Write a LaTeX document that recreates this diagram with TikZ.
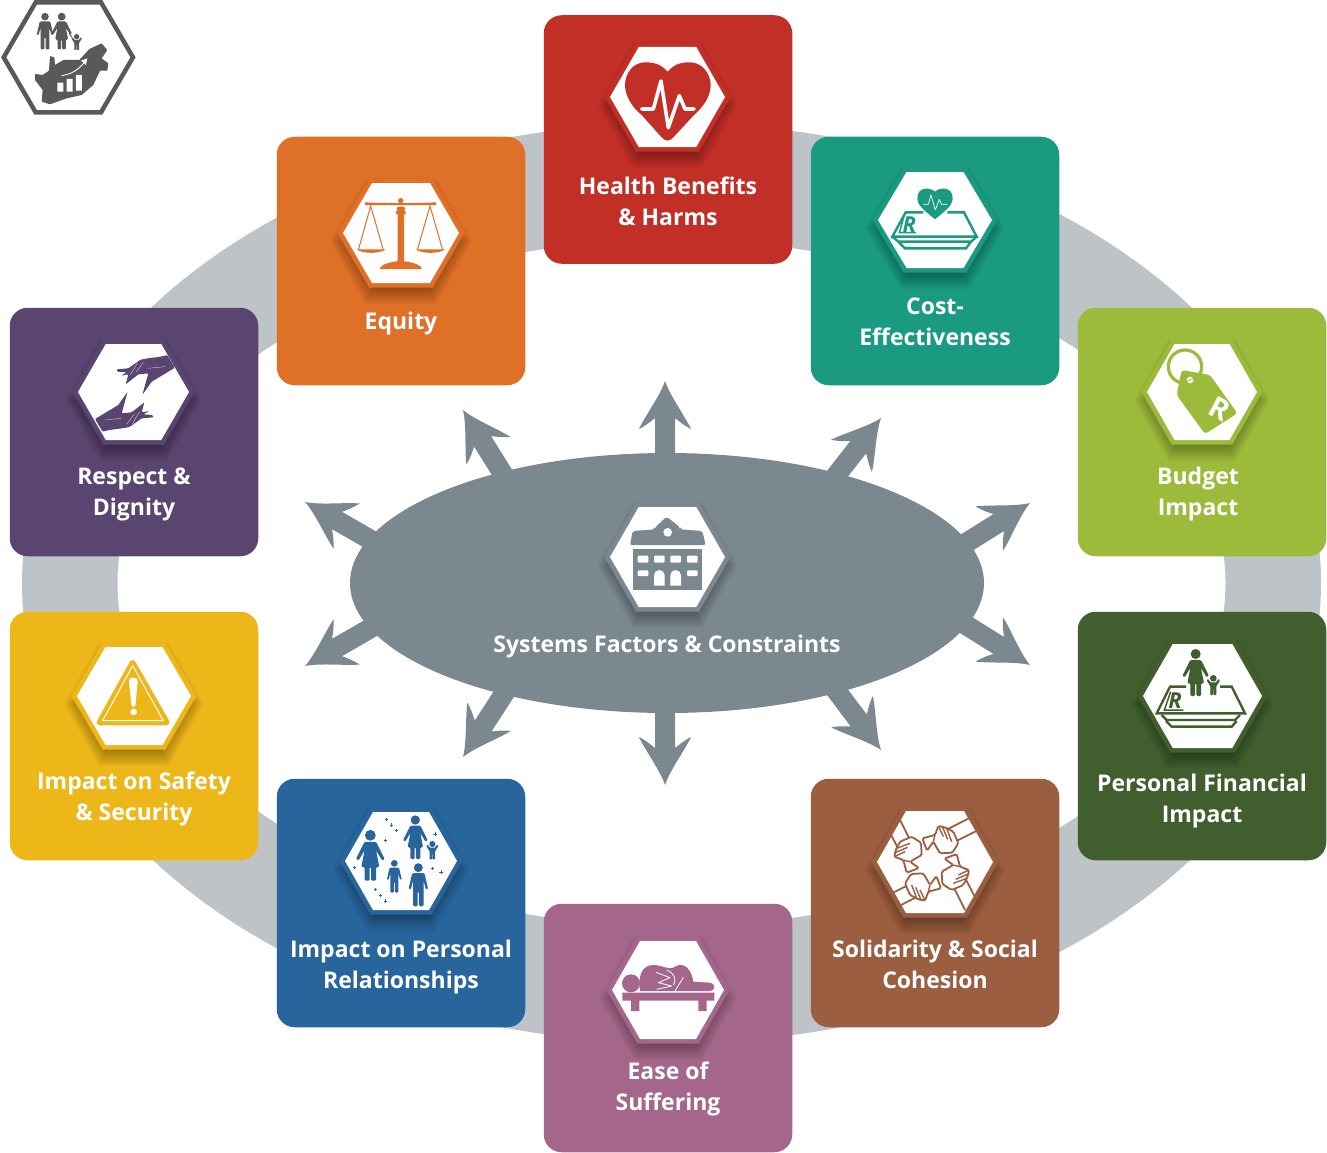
\documentclass[tikz,border=0pt]{standalone}
\usepackage{fontspec}
\setmainfont{Open Sans}
\usetikzlibrary{shapes.geometric}
\definecolor{ringc}{HTML}{BDC3C7}
\definecolor{sysc}{HTML}{7C8890}
\definecolor{redc}{HTML}{C22F27}
\definecolor{orangec}{HTML}{DF7027}
\definecolor{tealc}{HTML}{1A9A80}
\definecolor{limec}{HTML}{9DBB3B}
\definecolor{purplec}{HTML}{5A4570}
\definecolor{forestc}{HTML}{415F2E}
\definecolor{goldc}{HTML}{EDB71A}
\definecolor{bluec}{HTML}{28659C}
\definecolor{brownc}{HTML}{9C5E40}
\definecolor{mauvec}{HTML}{A4668A}
\definecolor{logoc}{HTML}{58595B}
\tikzset{
  cardbox/.style={rectangle,draw=none,minimum size=248.5pt,inner sep=0pt,rounded corners=18pt},
  lbl/.style={text=white,align=center,font=\bfseries\fontsize{23}{31}\selectfont,inner sep=0pt},
  zoomfrom/.style 2 args={shift={(#1,#2)},x=0.33333pt,y=-0.33333pt},
}
\newcommand\hexpath[2]{(-#1,0) -- ({-#1/2},-#2) -- ({#1/2},-#2) -- (#1,0) -- ({#1/2},#2) -- ({-#1/2},#2) -- cycle}
% centre x, centre y, half width, half height, colour
\newcommand\hexa[5]{%
  \begin{scope}[shift={(#1,#2)}]
    \foreach \i in {1,...,18}{%
      \pgfmathsetmacro\hw{#3+\i-5}\pgfmathsetmacro\hh{#4+\i-5}%
      \fill[black,opacity=.02,yshift=-8pt] \hexpath{\hw}{\hh};
    }
    \pgfmathsetmacro\hw{#3+5.5}\pgfmathsetmacro\hh{#4+4.5}%
    \fill[#5] \hexpath{\hw}{\hh};
    \fill[white] \hexpath{#3}{#4};
  \end{scope}}
\newcommand\burst[3]{%
  \fill[sysc,shift={(#1,#2)},rotate=#3] (0,0) .. controls (-15,5) and (-35,20) .. (-48,26)
    .. controls (-44,18) and (-40,14) .. (-37,10) -- (-130,10) -- (-130,-10) -- (-37,-10)
    .. controls (-40,-14) and (-44,-18) .. (-48,-26) .. controls (-35,-20) and (-15,-5) .. (0,0) -- cycle;}
% people, in zoom units: head at x,y, scale
\newcommand\womanicon[4]{\begin{scope}[shift={(#1,#2)},scale=#3]
  \fill[#4] (0,0) circle (15);
  \fill[#4,rounded corners=1.2pt] (-16,18) -- (16,18) -- (40,66) -- (33,70) -- (16,42) -- (25,88) -- (16,88) -- (16,126) -- (2,126) -- (2,88) -- (-2,88) -- (-2,126) -- (-16,126) -- (-16,88) -- (-25,88) -- (-16,42) -- (-33,70) -- (-40,66) -- cycle;
\end{scope}}
\newcommand\manicon[4]{\begin{scope}[shift={(#1,#2)},scale=#3]
  \fill[#4] (0,0) circle (14.5);
  \fill[#4,rounded corners=1.2pt] (-20,18) -- (20,18) -- (32,70) -- (25,72) -- (17,42) -- (17,126) -- (2,126) -- (2,78) -- (-2,78) -- (-2,126) -- (-17,126) -- (-17,42) -- (-25,72) -- (-32,70) -- cycle;
\end{scope}}
\newcommand\childicon[4]{\begin{scope}[shift={(#1,#2)},scale=#3]
  \fill[#4] (0,0) circle (10);
  \fill[#4,rounded corners=.6pt] (-8,12) -- (8,12) -- (16,2) -- (20,6) -- (9,24) -- (9,50) -- (1,50) -- (1,32) -- (-1,32) -- (-1,50) -- (-9,50) -- (-9,24) -- (-20,6) -- (-16,2) -- cycle;
\end{scope}}
\newcommand\plusdot[3]{\draw[#3,line width=1pt] (#1-5,#2) -- (#1+5,#2) (#1,#2-5) -- (#1,#2+5);}
\begin{document}
\begin{tikzpicture}[x=1pt,y=-1pt]
\useasboundingbox (0,0) rectangle (1327,1153);
% ring
\fill[ringc,even odd rule] (671.5,583) ellipse [x radius=649.5,y radius=460] (671.5,583) ellipse [x radius=554,y radius=343];
% centre
\node[ellipse,fill=sysc,draw=none,minimum width=634pt,minimum height=260pt,inner sep=0pt] (sys) at (667,583) {};
\burst{665}{381}{90}
\burst{881}{418}{52}
\burst{1030}{503}{32}
\burst{1030}{665}{-32}
\burst{881}{750}{-53}
\burst{665}{785}{-90}
\burst{463}{757}{237}
\burst{305}{666}{210}
\burst{305}{502}{150}
\burst{463}{410}{122}
% cards
\node[cardbox,fill=redc] (health) at (668,139.5) {};
\node[cardbox,fill=orangec] (equity) at (401,261) {};
\node[cardbox,fill=tealc] (cost) at (935,261) {};
\node[cardbox,fill=limec] (budget) at (1202,432) {};
\node[cardbox,fill=purplec] (respect) at (134,432) {};
\node[cardbox,fill=forestc] (financial) at (1202,736) {};
\node[cardbox,fill=goldc] (safety) at (134,736) {};
\node[cardbox,fill=bluec] (relations) at (401,903) {};
\node[cardbox,fill=brownc] (solidarity) at (935,903) {};
\node[cardbox,fill=mauvec] (ease) at (668,1028) {};
% hexagons
\hexa{667.5}{97}{57.5}{50}{redc}
\hexa{401}{233}{58}{50}{orangec}
\hexa{935}{220}{57}{48}{tealc}
\hexa{1202}{392}{55}{48}{limec}
\hexa{133.5}{392}{55.5}{48}{purplec}
\hexa{1202.5}{696}{59.5}{52}{forestc}
\hexa{134}{696}{57}{49}{goldc}
\hexa{401}{861}{56}{49}{bluec}
\hexa{935}{862}{58}{51}{brownc}
\hexa{668}{990}{56}{49}{mauvec}
\hexa{667.5}{557}{57.5}{50}{sysc}
% logo
\begin{scope}[zoomfrom={0}{0}]
  \draw[logoc,line width=4.5pt,fill=white,miter limit=4] (11,172) -- (107,7) -- (303,7) -- (399,172) -- (303,337) -- (107,337) -- cycle;
  \manicon{135}{50}{.78}{logoc}
  \womanicon{185}{50}{.78}{logoc}
  \childicon{230}{110}{.8}{logoc}
  \draw[logoc,line width=1pt] (207,100) -- (216,112);
  \fill[logoc,rounded corners=.6pt] (105,222) -- (128,225) -- (147,212) -- (150,168) -- (163,172) -- (165,195) -- (190,180) -- (238,180) -- (268,147) -- (305,130) -- (322,150) -- (305,175) -- (325,190) -- (322,212) -- (300,212) -- (280,255) -- (245,285) -- (200,295) -- (150,313) -- (125,305) -- (128,270) -- (105,240) -- cycle;
  \fill[white] (172,248) rectangle (190,275) (200,237) rectangle (218,275) (228,225) rectangle (246,272);
  \draw[white,line width=.9pt] (185,227) .. controls (215,222) and (235,210) .. (252,188);
  \fill[white] (262,175) -- (243,182) -- (258,195) -- cycle;
\end{scope}
% health heart
\begin{scope}[zoomfrom={590}{30}]
  \fill[redc] (233,125) .. controls (210,100) and (190,97) .. (165,97) .. controls (130,97) and (105,130) .. (105,165) .. controls (105,200) and (130,235) .. (155,255) -- (215,322) .. controls (228,335) and (238,335) .. (250,322) -- (312,255) .. controls (340,230) and (362,200) .. (362,165) .. controls (362,130) and (335,97) .. (300,97) .. controls (275,97) and (255,100) .. (233,125) -- cycle;
  \draw[white,line width=3.6pt,line cap=round,line join=round] (155,237) -- (190,237) -- (213,153) -- (235,293) -- (268,197) -- (285,237) -- (312,237);
\end{scope}
% cost icon
\begin{scope}[zoomfrom={860}{160}]
  \draw[tealc,line width=2.4pt,line join=miter] (190,157) -- (137,157) -- (97,230) -- (350,230) -- (312,157) -- (262,157);
  \draw[tealc,line width=2.4pt] (97,230) -- (115,245) -- (333,245) -- (350,230) (115,245) -- (135,265) -- (318,265) -- (333,245);
  \draw[tealc,line width=1.5pt] (132,168) -- (118,218) -- (168,218);
  \node[text=tealc,font=\bfseries\itshape\fontsize{22}{22}\selectfont,inner sep=0pt] (rcost) at (148,193) {R};
  \fill[tealc] (225,95) .. controls (212,82) and (172,78) .. (172,115) .. controls (172,140) and (205,160) .. (225,178) .. controls (245,160) and (278,140) .. (278,115) .. controls (278,78) and (238,82) .. (225,95) -- cycle;
  \draw[white,line width=.7pt,line join=round] (190,133) -- (205,133) -- (213,105) -- (226,150) -- (238,118) -- (245,133) -- (262,133);
\end{scope}
% budget tag
\begin{scope}[zoomfrom={1130}{335}]
  \draw[limec,line width=3.2pt] (165,95) circle (50);
  \fill[limec,rounded corners=3pt] (155,105) -- (240,120) -- (322,235) -- (225,297) -- (140,180) -- cycle;
  \fill[white] (180,135) circle (10);
  \draw[limec,line width=.8pt] (170,140) -- (190,130);
  \node[text=white,rotate=-28,font=\bfseries\fontsize{29}{29}\selectfont,inner sep=0pt] (rtag) at (270,222) {R};
\end{scope}
% financial icon
\begin{scope}[zoomfrom={1130}{635}]
  \draw[forestc,line width=2.4pt] (168,155) -- (120,155) -- (80,235) -- (345,235) -- (305,155) -- (270,155);
  \draw[forestc,line width=2.4pt] (95,240) -- (110,255) -- (315,255) -- (330,240) (108,258) -- (125,275) -- (305,275) -- (320,258);
  \draw[forestc,line width=1.5pt] (122,170) -- (103,225) -- (160,225);
  \node[text=forestc,font=\bfseries\itshape\fontsize{22}{22}\selectfont,inner sep=0pt] (rfin) at (135,197) {R};
  \womanicon{197}{57}{1}{forestc}
  \childicon{250}{130}{1}{forestc}
\end{scope}
% solidarity
\begin{scope}[zoomfrom={860}{800}]
  \clip (50,187) -- (135,35) -- (315,35) -- (400,187) -- (315,340) -- (135,340) -- cycle;
  \foreach \a in {0,90,180,270}{
    \begin{scope}[shift={(215,190)},rotate=\a]
      \draw[brownc,line width=1.8pt] (47,-102) -- (125,-142) (70,-65) -- (140,-100);
      \draw[brownc,fill=white,line width=1.8pt,rounded corners=1.5pt] (-28,-75) -- (10,-85) -- (20,-112) -- (40,-108) -- (65,-95) -- (80,-60) -- (62,-32) -- (25,-30) -- (5,-65) -- (-14,-38) -- cycle;
      \draw[brownc,line width=1.4pt] (20,-112) -- (35,-80) (32,-110) -- (48,-72) (45,-105) -- (60,-65) (5,-65) -- (10,-85);
    \end{scope}}
\end{scope}
% ease
\begin{scope}[zoomfrom={595}{930}]
  \fill[mauvec] (82,188) rectangle (358,212) (108,212) rectangle (133,243) (310,212) rectangle (335,243);
  \fill[mauvec] (108,160) circle (27);
  \fill[mauvec] (135,183) .. controls (128,140) and (140,105) .. (175,105) .. controls (200,105) and (220,120) .. (235,113) .. controls (255,98) and (285,100) .. (295,155) -- (345,158) .. controls (362,160) and (362,183) .. (345,183) -- cycle;
  \draw[white,line width=.8pt,line join=round] (183,127) -- (225,143) -- (190,158) -- (230,168) -- (185,178) (265,142) -- (240,183) (215,120) .. controls (240,130) and (245,150) .. (235,165);
\end{scope}
% relationships
\begin{scope}[zoomfrom={330}{800}]
  \womanicon{121}{106}{1.08}{bluec}
  \womanicon{256}{60}{.93}{bluec}
  \childicon{307}{132}{.92}{bluec}
  \manicon{193}{190}{.7}{bluec}
  \manicon{265}{203}{.92}{bluec}
  \foreach \px/\py in {170/58,185/75,200/92,167/122,315/102,73/202,308/206,333/216,137/269,152/286,167/303}{\plusdot{\px}{\py}{bluec}}
\end{scope}
% respect
\begin{scope}[zoomfrom={60}{335}]
  \clip (55,172) -- (137,28) -- (305,28) -- (387,172) -- (305,315) -- (137,315) -- cycle;
  \foreach \a in {0,180}{
    \begin{scope}[rotate around={\a:(225,175)}]
      \fill[purplec,rounded corners=1pt] (322,60) .. controls (295,68) and (265,68) .. (240,75) -- (205,100) -- (170,103) -- (172,110) -- (200,112) -- (183,122) -- (205,118) -- (197,148) -- (235,118) -- (265,115) -- (247,180) -- (275,140) -- (345,98) -- cycle;
      \draw[white,opacity=.7,line width=.4pt] (210,120) .. controls (225,100) and (228,90) .. (232,83) (228,112) .. controls (240,95) and (245,90) .. (250,82) (265,100) -- (315,95);
    \end{scope}}
\end{scope}
% equity scales
\begin{scope}[zoomfrom={330}{170}]
  \fill[orangec] (105,97) .. controls (160,100) and (260,100) .. (318,97) -- (318,105) .. controls (260,105) and (160,105) .. (105,105) -- cycle;
  \fill[orangec] (212,92) circle (8);
  \fill[orangec] (200,113) rectangle (225,120) (198,123) rectangle (227,132) (203,110) rectangle (222,275);
  \fill[orangec] (150,297) .. controls (150,280) and (200,273) .. (212,273) .. controls (225,273) and (275,280) .. (275,297) -- cycle;
  \draw[orangec,line width=1pt] (85,240) -- (122,108) -- (160,240) (262,240) -- (300,108) -- (338,240);
  \fill[orangec] (80,238) -- (167,238) .. controls (150,252) and (97,252) .. (80,238) -- cycle;
  \fill[orangec] (258,238) -- (345,238) .. controls (328,252) and (275,252) .. (258,238) -- cycle;
\end{scope}
% systems building
\begin{scope}[zoomfrom={595}{495}]
  \fill[sysc,rounded corners=2pt] (105,150) -- (113,108) -- (180,103) -- (180,97) -- (215,65) -- (255,97) -- (255,103) -- (322,108) -- (332,150) -- cycle;
  \fill[white] (218,112) circle (13);
  \fill[sysc] (113,163) rectangle (322,285);
  \fill[white,rounded corners=1pt] (128,182) rectangle (160,203) (177,182) rectangle (209,203) (226,182) rectangle (258,203) (276,182) rectangle (308,203) (128,226) rectangle (160,243) (276,226) rectangle (308,243);
  \fill[white] (177,272) -- (177,241) arc[start angle=180,end angle=360,radius=16] -- (209,272) -- cycle;
  \fill[white] (226,272) -- (226,241) arc[start angle=180,end angle=360,radius=16] -- (258,272) -- cycle;
\end{scope}
% safety
\begin{scope}[zoomfrom={60}{635}]
  \draw[goldc,fill=goldc,line width=6pt,line join=round] (218,84) -- (119,262) -- (320,262) -- cycle;
  \draw[white,line width=1pt,line join=round] (218,92) -- (128,257) -- (310,257) -- cycle;
  \fill[white,rounded corners=1pt] (207,140) .. controls (207,125) and (233,125) .. (233,140) -- (226,215) -- (215,215) -- cycle;
  \fill[white] (221,231) circle (10);
\end{scope}
% labels
\node[lbl] (thealth) at (668,201.5) {Health Benefits\\\& Harms};
\node[lbl] (tequity) at (401,324) {Equity};
\node[lbl] (tcost) at (935,321.5) {Cost-\\Effectiveness};
\node[lbl] (tbudget) at (1198,494.5) {Budget\\Impact};
\node[lbl] (trespect) at (134,494.5) {Respect \&\\Dignity};
\node[lbl] (tfin) at (1202,801.5) {Personal Financial\\Impact};
\node[lbl] (tsafety) at (134,798.5) {Impact on Safety\\\& Security};
\node[lbl] (trel) at (401,967.5) {Impact on Personal\\Relationships};
\node[lbl] (tsol) at (935,964.5) {Solidarity \& Social\\Cohesion};
\node[lbl] (tease) at (668,1088.5) {Ease of\\Suffering};
\node[lbl] (tsys) at (667,647) {Systems Factors \& Constraints};
\end{tikzpicture}
\end{document}
